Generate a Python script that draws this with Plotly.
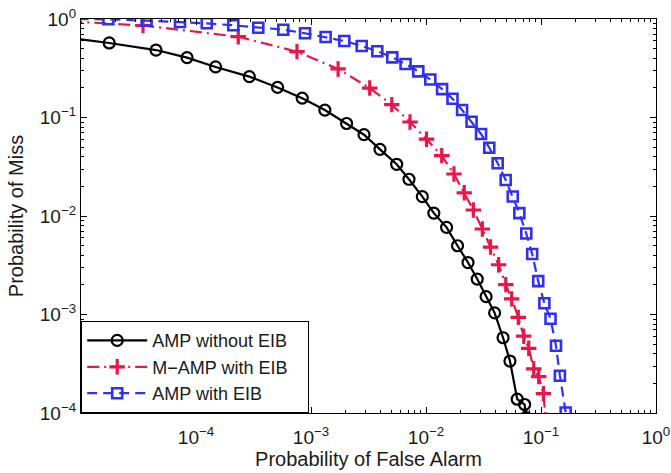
import plotly.graph_objects as go

# ---- data ----
pfa_amp_noeib = [5e-6, 1.76e-5, 4.49e-5, 8.36e-5, 1.48e-4, 2.91e-4, 5.12e-4, 8.39e-4, 1.32e-3,
                 2.04e-3, 2.89e-3, 3.98e-3, 5.56e-3, 7.11e-3, 9.29e-3, 0.0117, 0.0151,
                 0.0188, 0.0232, 0.0279, 0.0333, 0.0395, 0.0468, 0.0537, 0.0621, 0.0721, 0.074]
pm_amp_noeib = [0.691, 0.571, 0.484, 0.405, 0.326, 0.260, 0.202, 0.157, 0.119,
                0.0869, 0.0669, 0.0475, 0.0335, 0.0236, 0.0157, 0.0107, 0.00767,
                0.00499, 0.00337, 0.00229, 0.00152, 0.00104, 5.81e-4, 3.37e-4, 1.38e-4, 1.22e-4, 9.0e-5]

pfa_mamp_eib = [5e-6, 3.46e-5, 2.33e-4, 7.55e-4, 1.72e-3, 3.24e-3, 5.04e-3, 7.26e-3, 0.0101,
                0.0137, 0.0175, 0.0215, 0.0258, 0.0309, 0.0364, 0.0428, 0.0494, 0.0556,
                0.0635, 0.0708, 0.0782, 0.0865, 0.0955, 0.105, 0.110]
pm_mamp_eib = [0.975, 0.859, 0.661, 0.466, 0.311, 0.199, 0.135, 0.0900, 0.0602,
               0.0410, 0.0267, 0.0172, 0.0115, 0.00738, 0.00484, 0.00320, 0.00201, 0.00144,
               9.36e-4, 6.02e-4, 4.54e-4, 2.81e-4, 2.34e-4, 1.57e-4, 8.5e-5]

pfa_amp_eib = [5e-6, 1.73e-5, 3.72e-5, 7.26e-5, 1.24e-4, 2.11e-4, 3.48e-4, 5.74e-4, 8.87e-4,
               1.34e-3, 1.95e-3, 2.76e-3, 3.77e-3, 5.09e-3, 6.64e-3, 8.57e-3, 0.0109,
               0.0138, 0.0170, 0.0206, 0.0249, 0.0301, 0.0355, 0.0420, 0.0493, 0.0568,
               0.0648, 0.0745, 0.0838, 0.0946, 0.107, 0.121, 0.135, 0.146, 0.164]
pm_amp_eib = [0.998, 0.993, 0.961, 0.932, 0.904, 0.863, 0.816, 0.779, 0.716,
              0.657, 0.598, 0.532, 0.471, 0.408, 0.349, 0.294, 0.243,
              0.194, 0.155, 0.119, 0.0906, 0.0680, 0.0493, 0.0343, 0.0232, 0.0158,
              0.0107, 0.00664, 0.00411, 0.00218, 0.00130, 9.04e-4, 4.81e-4, 2.39e-4, 1.01e-4]

series_names = ["AMP without EIB", "M\u2212AMP with EIB", "AMP with EIB"]

x_tick_vals = [1e-4, 1e-3, 1e-2, 1e-1, 1e0]
x_tick_text = ["10<sup>\u22124</sup>", "10<sup>\u22123</sup>", "10<sup>\u22122</sup>",
               "10<sup>\u22121</sup>", "10<sup>0</sup>"]
y_tick_vals = [1e-4, 1e-3, 1e-2, 1e-1, 1e0]
y_tick_text = ["10<sup>\u22124</sup>", "10<sup>\u22123</sup>", "10<sup>\u22122</sup>",
               "10<sup>\u22121</sup>", "10<sup>0</sup>"]

# ---- styling ----
BLACK = "#000000"
RED = "#E8174A"
BLUE = "#3030F5"
FONT = "Liberation Sans, Arial, sans-serif"
TXT = "#1a1a1a"
PAD = "\u00a0\u00a0\u00a0"  # right padding inside the legend box

fig = go.Figure()
fig.add_trace(go.Scatter(
    x=pfa_amp_noeib, y=pm_amp_noeib, mode="lines+markers", name=series_names[0] + PAD,
    line=dict(color=BLACK, width=2.2),
    marker=dict(symbol="circle-open", size=11, color=BLACK, line=dict(width=2.2, color=BLACK))))
fig.add_trace(go.Scatter(
    x=pfa_mamp_eib, y=pm_mamp_eib, mode="lines+markers", name=series_names[1] + PAD,
    line=dict(color=RED, width=2.2, dash="12px,5px,2px,5px"),
    marker=dict(symbol="cross-thin-open", size=11, color=RED, line=dict(width=3.2, color=RED))))
fig.add_trace(go.Scatter(
    x=pfa_amp_eib, y=pm_amp_eib, mode="lines+markers", name=series_names[2],
    line=dict(color=BLUE, width=2.2, dash="10px,6px"),
    marker=dict(symbol="square-open", size=10, color=BLUE, line=dict(width=2.6, color=BLUE))))

minor_vals = [m * 10.0 ** e for e in range(-5, 0) for m in range(2, 10)]

axis_common = dict(
    type="log", showgrid=False, zeroline=False, automargin=False,
    showline=True, linecolor="black", linewidth=1.2, mirror="ticks",
    ticks="inside", ticklen=6, tickwidth=1, tickcolor="black",
    tickfont=dict(family=FONT, size=19, color=TXT),
    minor=dict(tickvals=minor_vals, ticks="inside", ticklen=3, tickwidth=1, tickcolor="black"),
)

fig.update_xaxes(**axis_common, range=[-5, 0], tickvals=x_tick_vals, ticktext=x_tick_text,
                 ticklabelstandoff=7,
                 title=dict(text="Probability of False Alarm", font=dict(family=FONT, size=20, color=TXT),
                            standoff=4))
fig.update_yaxes(**axis_common, range=[-4, 0], tickvals=y_tick_vals, ticktext=y_tick_text,
                 title=dict(text="Probability of Miss", font=dict(family=FONT, size=20, color=TXT),
                            standoff=10))

fig.update_layout(
    width=671, height=473,
    margin=dict(l=81, r=15, t=19, b=60, autoexpand=False),
    plot_bgcolor="white", paper_bgcolor="white",
    font=dict(family=FONT, size=20, color=TXT),
    legend=dict(x=0, y=0, xanchor="left", yanchor="bottom",
                bordercolor="black", borderwidth=1.2, bgcolor="white",
                font=dict(family=FONT, size=18, color=TXT),
                itemwidth=60, tracegroupgap=0),
)

fig.write_html("out.html", config={"displayModeBar": False},
               post_script="document.body.style.margin='0';document.body.style.padding='0';")
